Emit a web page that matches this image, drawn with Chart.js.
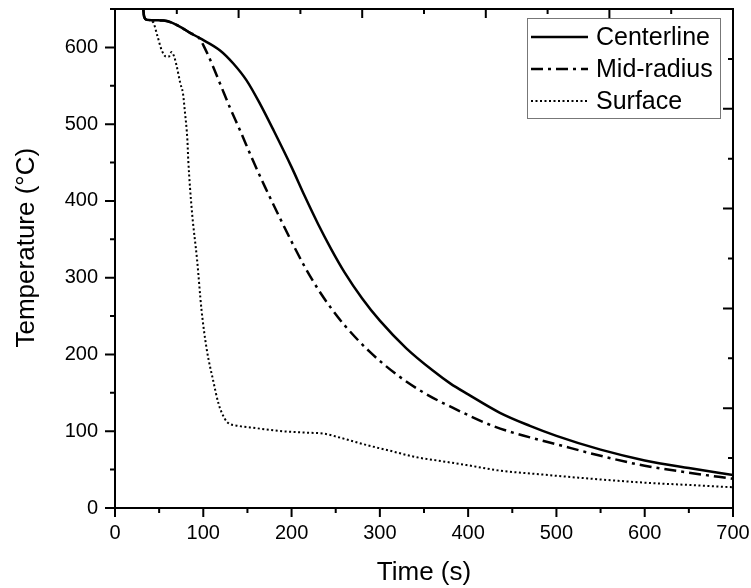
<!DOCTYPE html>
<html>
<head>
<meta charset="utf-8">
<title>Temperature vs time</title>
<script src="https://cdn.jsdelivr.net/npm/chart.js@4/dist/chart.umd.min.js"></script>
<style>
  body { margin: 0; background: #fff; }
  #wrap { width: 751px; height: 588px; }
</style>
</head>
<body>
<div id="wrap"><canvas id="chart" width="751" height="588"></canvas></div>
<script>
// values (time in s, temperature in °C)
const seriesNames = ["Centerline", "Mid-radius", "Surface"];

const centerTime = [32, 33, 36, 55, 65, 75, 85, 96, 119, 134, 149, 164, 180, 200, 215, 230, 245, 260, 280, 300, 330, 360, 380, 400, 436, 470, 500, 550, 600, 650, 700];
const centerTemp = [650, 640, 636, 635, 632, 626, 619, 612, 596, 579, 557, 527, 491, 444, 406, 370, 337, 307, 273, 244, 208, 179, 162, 148, 124, 107, 94, 76, 62, 52, 43];

const midTime = [32, 33, 36, 55, 65, 75, 85, 92, 96, 100, 110, 120, 130, 142, 155, 170, 185, 200, 215, 230, 245, 260, 289, 320, 350, 380, 430, 470, 500, 550, 600, 650, 700];
const midTemp = [650, 640, 636, 635, 632, 626, 619, 615, 611, 603, 578, 550, 522, 491, 456, 418, 382, 347, 314, 285, 260, 238, 203, 173, 150, 132, 106, 92, 83, 68, 55, 46, 38];

const surfTime = [32, 33, 36, 43, 48, 53, 58, 61, 64, 67, 70, 74, 77, 79, 82, 83, 87, 93, 98, 104, 111, 117, 121, 127, 140, 153, 190, 220, 236, 260, 285, 310, 342, 370, 398, 434, 480, 530, 600, 650, 700];
const surfTemp = [650, 640, 636, 633, 615, 596, 588, 588, 594, 588, 575, 553, 540, 518, 479, 453, 388, 323, 258, 206, 167, 137, 124, 112, 107, 105, 100, 98, 97, 90, 82, 75, 66, 61, 56, 49, 44, 39, 33, 30, 27];

const xTicks = [0, 100, 200, 300, 400, 500, 600, 700];
const yTicks = [0, 100, 200, 300, 400, 500, 600];

const FONT = "'Liberation Sans', Arial, sans-serif";

function points(xs, ys) {
  return xs.map((x, i) => ({ x: x, y: ys[i] }));
}

function noScalePadding(s) {
  s.paddingTop = 0;
  s.paddingBottom = 0;
  s.paddingLeft = 0;
  s.paddingRight = 0;
}

// frame with mirrored ticks like the original plot
const framePlugin = {
  id: "frame",
  afterDraw(chart) {
    const { ctx, chartArea: a, scales } = chart;
    const xs = scales.x, ys = scales.y;
    ctx.save();
    ctx.strokeStyle = "#000";
    ctx.lineWidth = 2;
    ctx.strokeRect(a.left, a.top, a.right - a.left, a.bottom - a.top);
    ctx.beginPath();
    // bottom, outward
    for (let v = 0; v <= 700; v += 50) {
      const px = xs.getPixelForValue(v);
      ctx.moveTo(px, a.bottom);
      ctx.lineTo(px, a.bottom + (v % 100 === 0 ? 9 : 5));
    }
    // left, outward
    for (let v = 0; v <= 650; v += 50) {
      const py = ys.getPixelForValue(v);
      ctx.moveTo(a.left, py);
      ctx.lineTo(a.left - (v % 100 === 0 ? 10 : 5), py);
    }
    // top, inward
    for (let v = 70; v < 700; v += 70) {
      const px = xs.getPixelForValue(v);
      ctx.moveTo(px, a.top);
      ctx.lineTo(px, a.top + (v % 140 === 0 ? 9 : 5));
    }
    // right, inward
    for (let v = 65; v < 650; v += 65) {
      const py = ys.getPixelForValue(v);
      ctx.moveTo(a.right, py);
      ctx.lineTo(a.right - (v % 130 === 0 ? 10 : 5), py);
    }
    ctx.stroke();

    // legend box
    const bx = 527, by = 18, bw = 193, bh = 100;
    ctx.fillStyle = "#fff";
    ctx.fillRect(bx, by, bw, bh);
    ctx.lineWidth = 1;
    ctx.strokeStyle = "#777";
    ctx.strokeRect(bx + 0.5, by + 0.5, bw, bh);
    ctx.font = "25px " + FONT;
    ctx.textBaseline = "middle";
    ctx.fillStyle = "#000";
    chart.data.datasets.forEach((ds, i) => {
      const y = 37 + i * 32;
      ctx.strokeStyle = "#000";
      ctx.lineWidth = ds.borderWidth;
      ctx.setLineDash(ds.borderDash || []);
      ctx.beginPath();
      ctx.moveTo(531, y);
      ctx.lineTo(588, y);
      ctx.stroke();
      ctx.setLineDash([]);
      ctx.fillText(ds.label, 596, y + 1);
    });
    ctx.restore();
  }
};

new Chart(document.getElementById("chart"), {
  type: "scatter",
  data: {
    datasets: [
      {
        label: seriesNames[0],
        data: points(centerTime, centerTemp),
        borderColor: "#000",
        borderWidth: 2.5,
      },
      {
        label: seriesNames[1],
        data: points(midTime, midTemp),
        borderColor: "#000",
        borderWidth: 2.5,
        borderDash: [12, 5, 3, 5],
      },
      {
        label: seriesNames[2],
        data: points(surfTime, surfTemp),
        borderColor: "#000",
        borderWidth: 2,
        borderDash: [2, 2.5],
      },
    ],
  },
  options: {
    responsive: false,
    animation: false,
    devicePixelRatio: 1,
    showLine: true,
    elements: {
      point: { radius: 0, hoverRadius: 0 },
      line: { cubicInterpolationMode: "monotone", fill: false },
    },
    layout: { padding: { top: 9, right: 18, left: 0, bottom: 0 } },
    plugins: {
      legend: { display: false },
      tooltip: { enabled: false },
    },
    scales: {
      x: {
        type: "linear",
        min: 0,
        max: 700,
        afterBuildTicks: (s) => { s.ticks = xTicks.map((v) => ({ value: v })); },
        afterFit: (s) => { s.height = 80; noScalePadding(s); },
        ticks: { color: "#000", padding: 13, maxRotation: 0, font: { family: FONT, size: 20 } },
        grid: { display: false, drawTicks: false },
        border: { display: false },
        title: {
          display: true,
          text: "Time (s)",
          color: "#000",
          font: { family: FONT, size: 26 },
          padding: { top: 0, bottom: 0 },
        },
      },
      y: {
        type: "linear",
        min: 0,
        max: 650,
        afterBuildTicks: (s) => { s.ticks = yTicks.map((v) => ({ value: v })); },
        afterFit: (s) => { s.width = 115; noScalePadding(s); },
        ticks: { color: "#000", padding: 17, font: { family: FONT, size: 20 } },
        grid: { display: false, drawTicks: false },
        border: { display: false },
        title: {
          display: true,
          // leading spaces nudge the rotated title up like the original
          text: "\u00a0\u00a0\u00a0Temperature (°C)",
          color: "#000",
          font: { family: FONT, size: 26 },
          padding: { top: 11, bottom: 0 },
        },
      },
    },
  },
  plugins: [framePlugin],
});
</script>
</body>
</html>
